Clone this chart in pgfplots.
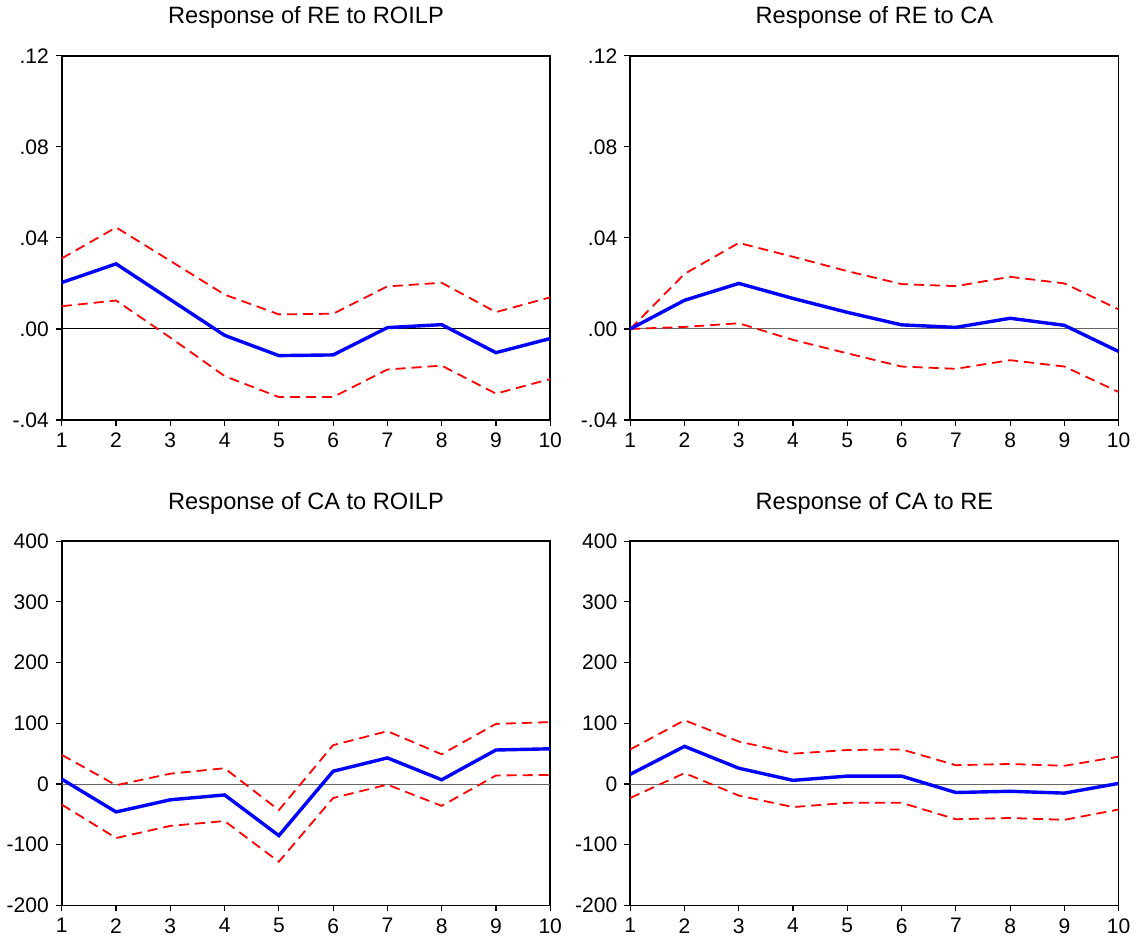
\documentclass[border=0pt]{standalone}
\usepackage{fontspec}
\setmainfont{Liberation Sans}
\usepackage{pgfplots}
\pgfplotsset{compat=1.18}

% impulse responses: step, response, upper band, lower band
\pgfplotstableread{
t   m        u       l
1   0.0204   0.0310  0.0100
2   0.0286   0.0446  0.0125
3   0.0129   0.0299 -0.0038
4  -0.0028   0.0151 -0.0207
5  -0.0117   0.0064 -0.0299
6  -0.0114   0.0067 -0.0299
7   0.0006   0.0187 -0.0178
8   0.0019   0.0203 -0.0161
9  -0.0104   0.0074 -0.0284
10 -0.0042   0.0139 -0.0220
}\reroilp
\pgfplotstableread{
t   m        u       l
1   0.0000   0.0000  0.0000
2   0.0126   0.0242  0.0009
3   0.0200   0.0378  0.0025
4   0.0134   0.0317 -0.0048
5   0.0073   0.0254 -0.0107
6   0.0018   0.0197 -0.0165
7   0.0007   0.0188 -0.0175
8   0.0047   0.0229 -0.0137
9   0.0016   0.0200 -0.0165
10 -0.0099   0.0086 -0.0277
}\reca
\pgfplotstableread{
t   m     u     l
1   8     48   -34
2  -46   -2    -89
3  -26    17   -69
4  -18    26   -61
5  -85   -43   -128
6   21    64   -23
7   43    87   -1
8   7     49   -36
9   56    99    14
10  58    102   15
}\caroilp
\pgfplotstableread{
t   m     u     l
1   16    57   -23
2   62    105   18
3   26    70   -19
4   6     50   -38
5   13    56   -31
6   13    57   -31
7  -14    31   -58
8  -12    33   -56
9  -15    30   -59
10  1     45   -42
}\care

\pgfplotsset{
  irf/.style={
    scale only axis, width=244pt, height=182pt,
    xmin=1, xmax=10, xtick={1,...,10},
    tick align=outside, xtick pos=lower, ytick pos=left,
    major tick length=3pt,
    axis line style={black, line width=0.8pt},
    tick style={black, line width=0.6pt},
    tick label style={font=\fontsize{10.5}{12}\selectfont},
    title style={font=\fontsize{11.8}{13}\selectfont, yshift=4pt},
    /pgf/number format/assume math mode=true,
    clip=false,
  },
  small/.style={ymin=-0.04, ymax=0.12, ytick={-0.04,0,0.04,0.08,0.12},
    yticklabels={-.04,.00,.04,.08,.12}},
  big/.style={ymin=-200, ymax=400, ytick={-200,-100,0,100,200,300,400},
    yticklabels={-200,-100,0,100,200,300,400}},
  resp/.style={blue, line width=1.7pt},
  band/.style={red, line width=0.9pt, dash pattern=on 5pt off 3pt},
  zero/.style={black!60, line width=0.5pt},
}

\begin{document}
\begin{tikzpicture}
\begin{axis}[irf, small, at={(0pt,242.5pt)}, title={Response of RE to ROILP}]
  \addplot [black, line width=0.5pt] coordinates {(1,0) (10,0)};
  \addplot [band] table [x=t, y=u] {\reroilp};
  \addplot [band] table [x=t, y=l] {\reroilp};
  \addplot [resp] table [x=t, y=m] {\reroilp};
\end{axis}
\begin{axis}[irf, small, at={(284pt,242.5pt)}, title={Response of RE to CA}]
  \addplot [zero] coordinates {(1,0) (10,0)};
  \addplot [band] table [x=t, y=u] {\reca};
  \addplot [band] table [x=t, y=l] {\reca};
  \addplot [resp] table [x=t, y=m] {\reca};
\end{axis}
\begin{axis}[irf, big, at={(0pt,0pt)}, title={Response of CA to ROILP}]
  \addplot [zero] coordinates {(1,0) (10,0)};
  \addplot [band] table [x=t, y=u] {\caroilp};
  \addplot [band] table [x=t, y=l] {\caroilp};
  \addplot [resp] table [x=t, y=m] {\caroilp};
\end{axis}
\begin{axis}[irf, big, at={(284pt,0pt)}, title={Response of CA to RE}]
  \addplot [zero] coordinates {(1,0) (10,0)};
  \addplot [band] table [x=t, y=u] {\care};
  \addplot [band] table [x=t, y=l] {\care};
  \addplot [resp] table [x=t, y=m] {\care};
\end{axis}
\end{tikzpicture}
\end{document}
